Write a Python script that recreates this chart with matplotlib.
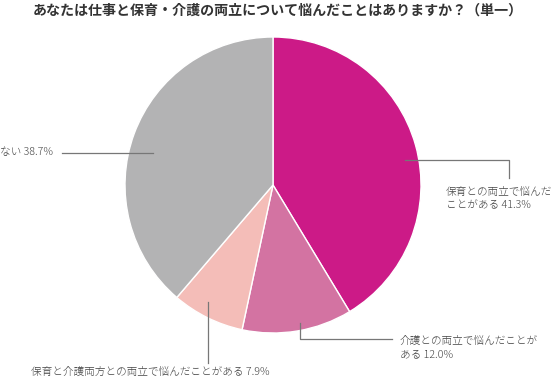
import matplotlib
matplotlib.use("Agg")
import matplotlib.pyplot as plt

plt.rcParams['font.family'] = ['Noto Sans CJK JP', 'DejaVu Sans']

title = "あなたは仕事と保育・介護の両立について悩んだことはありますか？（単一）"
categories = ["保育との両立で悩んだ\nことがある", "介護との両立で悩んだことが\nある",
              "保育と介護両方との両立で悩んだことがある", "ない"]
values = [41.3, 12.0, 7.9, 38.7]
colors = ["#cc1a87", "#d373a2", "#f4bdb8", "#b3b3b4"]

W, H = 557, 382
fig = plt.figure(figsize=(W / 100, H / 100), dpi=100)
ax = fig.add_axes([0, 0, 1, 1])

cx, cy, r = 273, H - 185, 148
ax.pie(values, colors=colors, startangle=90, counterclock=False,
       center=(cx, cy), radius=r, frame=True,
       wedgeprops=dict(edgecolor='white', linewidth=1))
ax.set_xlim(0, W)
ax.set_ylim(0, H)
ax.set_aspect('equal')
ax.axis('off')

fig.text(278 / W, 1 - 11 / H, title, ha='center', va='center', fontsize=10.1,
         fontweight='bold', color='#333333')

lc = '#777777'
lw = 0.9
fs = 7.7
tc = '#444444'
def Y(y):
    return H - y

# 41.3%
ax.plot([405, 509, 509], [Y(160), Y(160), Y(178)], color=lc, lw=lw)
ax.text(446, Y(199), f"{categories[0]} {values[0]:.1f}%", ha='left', va='center',
        fontsize=fs, color=tc, linespacing=1.3, fontweight='light')
# 12.0%
ax.plot([300, 300, 392], [Y(323), Y(339), Y(339)], color=lc, lw=lw)
ax.text(400, Y(348), f"{categories[1]} {values[1]:.1f}%", ha='left', va='center',
        fontsize=fs, color=tc, linespacing=1.3, fontweight='light')
# 7.9%
ax.plot([208, 208], [Y(302), Y(363)], color=lc, lw=lw)
ax.text(150, Y(372), f"{categories[2]} {values[2]:.1f}%", ha='center', va='center',
        fontsize=fs, color=tc, fontweight='light')
# 38.7%
ax.plot([62, 153], [Y(153), Y(153)], color=lc, lw=lw)
ax.text(0, Y(153), f"{categories[3]} {values[3]:.1f}%", ha='left', va='center',
        fontsize=fs, color=tc, fontweight='light')

fig.savefig("out.png", dpi=100)
